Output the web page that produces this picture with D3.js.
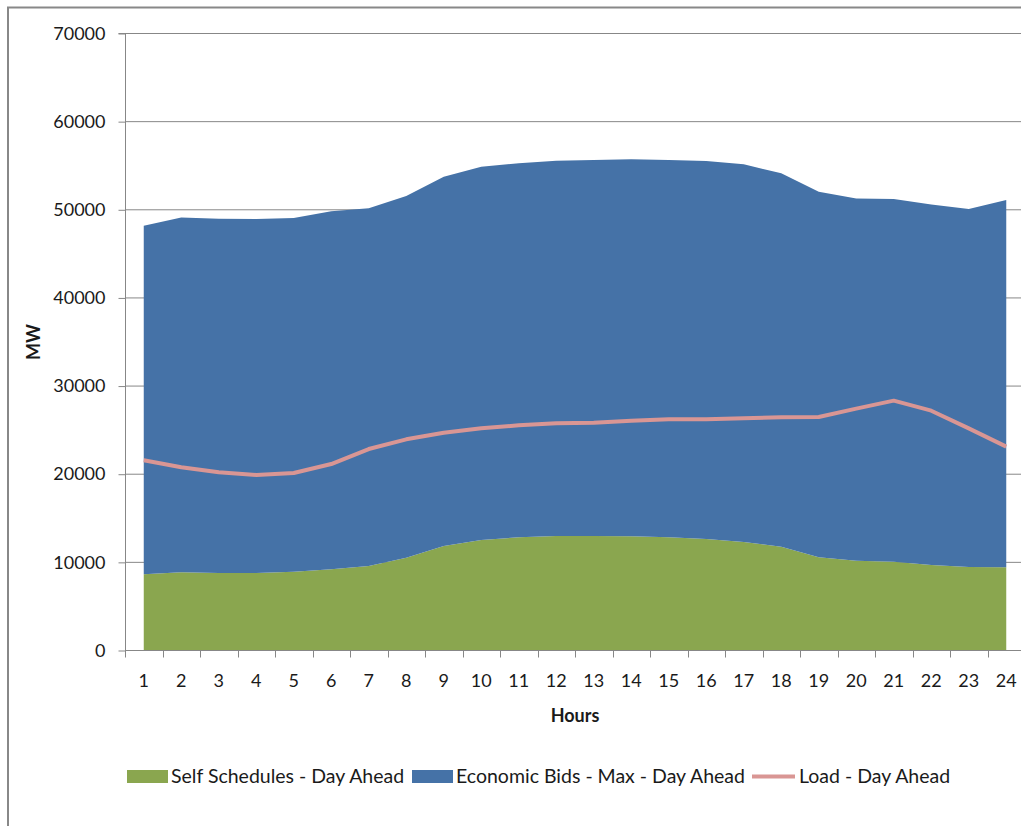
<!DOCTYPE html>
<html>
<head>
<meta charset="utf-8">
<script src="https://cdn.jsdelivr.net/npm/d3@7"></script>
<style>
  html, body { margin: 0; padding: 0; background: #ffffff; }
  svg { display: block; }
  text { font-family: Lato, "Open Sans", sans-serif; fill: #1a1a1a; }
</style>
</head>
<body>
<svg id="chart" width="1021" height="826"></svg>
<script>
// Hourly day-ahead supply offers and load (MW)
const hours = ["1","2","3","4","5","6","7","8","9","10","11","12","13","14","15","16","17","18","19","20","21","22","23","24"];

// Self-scheduled generation
const selfSchedules = [8590, 8810, 8740, 8740, 8890, 9150, 9530, 10470, 11800, 12480, 12790, 12930,
                       12930, 12900, 12790, 12590, 12250, 11720, 10510, 10130, 10020, 9640, 9420, 9380];

// Economic bids (maximum), stacked on top of self schedules
const economicBidsMax = [39550, 40250, 40200, 40160, 40120, 40620, 40580, 41040, 41900, 42360, 42430, 42590,
                         42660, 42770, 42800, 42890, 42850, 42360, 41490, 41080, 41150, 40910, 40610, 41680];

// Day-ahead load forecast
const load = [21520, 20730, 20160, 19855, 20080, 21100, 22800, 23900, 24650, 25150, 25490, 25720,
              25790, 26020, 26170, 26170, 26290, 26400, 26440, 27380, 28290, 27150, 25150, 23070];

const yTicks = [0, 10000, 20000, 30000, 40000, 50000, 60000, 70000];

const seriesNames = ["Self Schedules - Day Ahead", "Economic Bids - Max - Day Ahead", "Load - Day Ahead"];
const colors = { self: "#8AA64F", econ: "#4572A7", load: "#D99694", grid: "#878787", axis: "#878787" };

const svg = d3.select("#chart");

// Chart frame
svg.append("path")
  .attr("d", "M8,826 L8,7.5 L1021,7.5")
  .attr("fill", "none")
  .attr("stroke", "#888")
  .attr("stroke-width", 2);

const plot = { left: 125, right: 1025, top: 33, bottom: 650 };

const x = d3.scalePoint()
  .domain(hours)
  .range([plot.left, plot.right])
  .padding(0.5);
const step = x.step();

const y = d3.scaleLinear()
  .domain([0, 70000])
  .range([plot.bottom, plot.top]);

// Horizontal gridlines
svg.append("g")
  .selectAll("line")
  .data(yTicks.filter(d => d > 0))
  .join("line")
  .attr("x1", plot.left).attr("x2", plot.right)
  .attr("y1", d => y(d) + 0.5).attr("y2", d => y(d) + 0.5)
  .attr("stroke", colors.grid)
  .attr("stroke-width", 1);

// Stacked areas
const rows = hours.map((h, i) => ({ hour: h, self: selfSchedules[i], econ: economicBidsMax[i] }));
const stacked = d3.stack().keys(["self", "econ"])(rows);

const area = d3.area()
  .x(d => x(d.data.hour))
  .y0(d => y(d[0]))
  .y1(d => y(d[1]));

svg.append("g")
  .selectAll("path")
  .data(stacked)
  .join("path")
  .attr("d", area)
  .attr("fill", d => colors[d.key]);

// Load line
const line = d3.line()
  .x((d, i) => x(hours[i]))
  .y(d => y(d));

svg.append("path")
  .datum(load)
  .attr("d", line)
  .attr("fill", "none")
  .attr("stroke", colors.load)
  .attr("stroke-width", 4)
  .attr("stroke-linejoin", "round");

// Y axis
const yAxis = d3.axisLeft(y)
  .tickValues(yTicks)
  .tickSize(7)
  .tickPadding(13)
  .tickFormat(d3.format("d"));

const gy = svg.append("g")
  .attr("transform", `translate(${plot.left + 0.5},0.5)`)
  .call(yAxis);
gy.select(".domain").attr("stroke", colors.axis).attr("d", `M-7,${y(70000)}H0V${y(0)}`);
gy.selectAll(".tick line").attr("stroke", colors.axis);
gy.selectAll(".tick text")
  .attr("font-size", 18)
  .attr("font-family", "Lato, sans-serif")
  .attr("fill", "#1a1a1a");

// X axis: labels at category centres, ticks between categories
const gx = svg.append("g").attr("transform", `translate(0,${plot.bottom + 0.5})`);
gx.append("line")
  .attr("x1", plot.left).attr("x2", plot.right)
  .attr("stroke", colors.axis);
const boundaries = hours.map(h => x(h) - step / 2).concat([x(hours[hours.length - 1]) + step / 2]);
gx.selectAll("line.tk")
  .data(boundaries)
  .join("line")
  .attr("class", "tk")
  .attr("x1", d => Math.round(d) + 0.5).attr("x2", d => Math.round(d) + 0.5)
  .attr("y1", 0).attr("y2", 7)
  .attr("stroke", colors.axis);
gx.selectAll("text")
  .data(hours)
  .join("text")
  .attr("x", d => x(d))
  .attr("y", 36)
  .attr("text-anchor", "middle")
  .attr("font-size", 18)
  .text(d => d);

// Axis titles
svg.append("text")
  .attr("x", x("12") + step / 2)
  .attr("y", 722)
  .attr("text-anchor", "middle")
  .attr("font-size", 18)
  .attr("font-weight", "bold")
  .text("Hours");

svg.append("text")
  .attr("transform", "translate(40,342) rotate(-90)")
  .attr("text-anchor", "middle")
  .attr("font-size", 18)
  .attr("font-weight", "bold")
  .text("MW");

// Legend
const legendItems = [
  { name: seriesNames[0], type: "rect", color: colors.self, sx: 127, tx: 171 },
  { name: seriesNames[1], type: "rect", color: colors.econ, sx: 412, tx: 456 },
  { name: seriesNames[2], type: "line", color: colors.load, sx: 752, tx: 799 }
];
const lg = svg.append("g");
legendItems.forEach(item => {
  if (item.type === "rect") {
    lg.append("rect")
      .attr("x", item.sx).attr("y", 770)
      .attr("width", 41).attr("height", 13)
      .attr("fill", item.color);
  } else {
    lg.append("line")
      .attr("x1", item.sx).attr("x2", item.sx + 43)
      .attr("y1", 776.5).attr("y2", 776.5)
      .attr("stroke", item.color)
      .attr("stroke-width", 4);
  }
  lg.append("text")
    .attr("x", item.tx)
    .attr("y", 783)
    .attr("font-size", 19.5)
    .text(item.name);
});
</script>
</body>
</html>
